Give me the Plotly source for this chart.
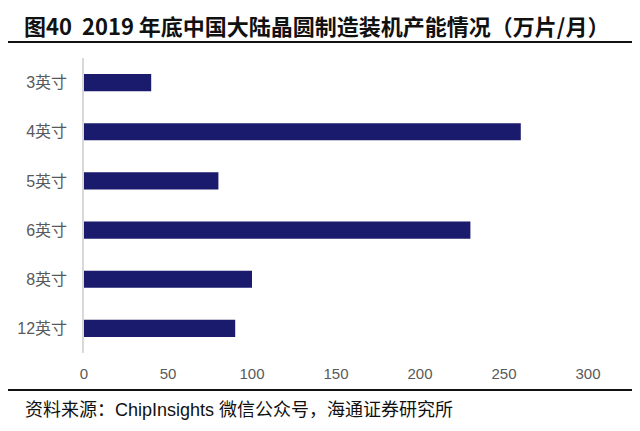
# %% Import libraries.
import plotly.graph_objects as go

# %% Data.
categories = ["3英寸", "4英寸", "5英寸", "6英寸", "8英寸", "12英寸"]
capacity = [40, 260, 80, 230, 100, 90]
x_ticks = [0, 50, 100, 150, 200, 250, 300]
title_text = "<b>图40  2019 年底中国大陆晶圆制造装机产能情况（万片/月）</b>"
source_text = "资料来源：ChipInsights 微信公众号，海通证券研究所"

# %% Layout helpers (screen pixel -> paper).
# The page body has an 8px margin, so the figure is 8px smaller and offset.
OFF = 8
W, H = 640 - OFF, 431 - OFF


def px_x(v):
    return (v - OFF) / W


def px_y(v):
    return 1 - (v - OFF) / H


FONT = "Liberation Sans, Arial, Noto Sans CJK SC"

# %% Figure.
fig = go.Figure()
fig.add_trace(
    go.Bar(
        x=capacity,
        y=categories,
        orientation="h",
        marker=dict(color="#1b1b6e", line=dict(width=0)),
        width=0.35,
    )
)

fig.update_layout(
    width=W,
    height=H,
    margin=dict(l=0, r=0, t=0, b=0),
    paper_bgcolor="white",
    plot_bgcolor="white",
    showlegend=False,
    font=dict(family=FONT, size=15, color="#595959"),
    xaxis=dict(
        domain=[px_x(84), px_x(588)],
        range=[0, 300],
        tickvals=x_ticks,
        ticks="",
        showgrid=False,
        zeroline=False,
        showline=False,
        automargin=False,
        ticklabelstandoff=10,
        tickfont=dict(size=15, color="#595959"),
    ),
    yaxis=dict(
        domain=[px_y(353), px_y(58)],
        categoryorder="array",
        categoryarray=categories,
        autorange="reversed",
        ticks="",
        showgrid=False,
        zeroline=False,
        showline=True,
        linecolor="#d9d9d9",
        linewidth=1.5,
        automargin=False,
        ticklabelstandoff=12,
        tickfont=dict(size=16, color="#595959"),
    ),
)

# Title and rules.
fig.add_annotation(
    text=title_text,
    xref="paper", yref="paper",
    x=px_x(23), y=1,
    xanchor="left", yanchor="top",
    showarrow=False,
    borderpad=0,
    font=dict(family="Noto Sans CJK SC", size=22, color="#111111"),
)
fig.add_shape(
    type="line", xref="paper", yref="paper",
    x0=0, x1=1, y0=px_y(42), y1=px_y(42),
    line=dict(color="#111111", width=2),
)
fig.add_shape(
    type="line", xref="paper", yref="paper",
    x0=0, x1=1, y0=px_y(390), y1=px_y(390),
    line=dict(color="#111111", width=2),
)
fig.add_annotation(
    text=source_text,
    xref="paper", yref="paper",
    x=px_x(23), y=px_y(410),
    xanchor="left", yanchor="middle",
    showarrow=False,
    font=dict(family="Liberation Sans, Noto Sans CJK SC", size=18, color="#111111"),
)

fig.write_html("out.html")
